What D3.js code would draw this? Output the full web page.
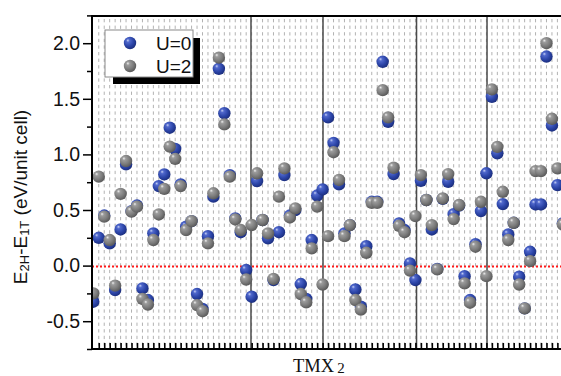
<!DOCTYPE html>
<html><head><meta charset="utf-8">
<script src="https://cdn.jsdelivr.net/npm/d3@7"></script>
<style>html,body{margin:0;padding:0;background:#fff;} svg{display:block;}</style>
</head><body>
<svg id="chart" width="561" height="376"></svg>
<script>
// compound index along the TMX2 axis
const categories = d3.range(0, 87);
// E(2H) - E(1T) in eV/unit cell, without Hubbard U
const u0 = [-0.325, 0.25, 0.45, 0.20, -0.22, 0.325, 0.91, 0.49, 0.54, -0.205,
  -0.31, 0.29, 0.715, 0.82, 1.24, 1.05, 0.73, 0.35, 0.40, -0.256,
  -0.39, 0.265, 0.62, 1.77, 1.37, 0.814, 0.425, 0.30, -0.04, -0.28,
  0.76, 0.41, 0.245, -0.13, 0.30, 0.814, 0.45, 0.50, -0.166, -0.30,
  0.23, 0.63, 0.685, 1.333, 1.104, 0.73, 0.29, 0.364, -0.215, -0.37,
  0.175, 0.574, 0.574, 1.833, 1.293, 0.823, 0.38, 0.32, 0.02, -0.13,
  0.763, 0.59, 0.325, -0.03, 0.60, 0.754, 0.463, 0.54, -0.095, -0.31,
  0.193, 0.49, 0.83, 1.518, 1.01, 0.553, 0.28, 0.385, -0.10, -0.385,
  0.124, 0.55, 0.55, 1.88, 1.26, 0.724, 0.38];
// same quantity with U = 2 eV
const u2 = [-0.25, 0.80, 0.44, 0.23, -0.18, 0.645, 0.94, 0.485, 0.53, -0.30,
  -0.35, 0.23, 0.46, 0.69, 1.07, 0.96, 0.715, 0.32, 0.40, -0.355,
  -0.41, 0.20, 0.65, 1.87, 1.27, 0.80, 0.415, 0.32, -0.125, 0.365,
  0.83, 0.41, 0.29, -0.12, 0.62, 0.874, 0.433, 0.515, -0.256, -0.33,
  0.155, 0.53, -0.17, 0.265, 1.02, 0.77, 0.265, 0.364, -0.31, -0.395,
  0.115, 0.565, 0.565, 1.578, 1.333, 0.88, 0.358, 0.30, -0.045, 0.445,
  0.814, 0.59, 0.364, -0.034, 0.604, 0.823, 0.418, 0.545, -0.16, -0.334,
  0.17, 0.574, -0.095, 1.585, 1.068, 0.664, 0.23, 0.385, -0.17, -0.385,
  0.04, 0.85, 0.85, 2.0, 1.32, 0.874, 0.37];
// boundaries between metal groups (in category units)
const groupBounds = [28.88, 42.07, 59.2, 72.11];
const yMajorTicks = [-0.5, 0.0, 0.5, 1.0, 1.5, 2.0];
const yMinorTicks = [-0.75, -0.25, 0.25, 0.75, 1.25, 1.75, 2.25];
const seriesNames = ["U=0", "U=2"];

const svg = d3.select("#chart");
const W = 561, H = 376;
const mLeft = 92, mTop = 16, mBottom = 349, mRight = W + 10;

const x = d3.scaleLinear().domain([0, 85]).range([93.3, 557.4]);
const y = d3.scaleLinear().domain([-0.75, 2.25]).range([mBottom, mBottom - 333.6]);

const defs = svg.append("defs");
defs.append("clipPath").attr("id", "plotClip")
  .append("rect").attr("x", mLeft).attr("y", mTop).attr("width", mRight - mLeft).attr("height", mBottom - mTop);

function sphere(id, stops) {
  const g = defs.append("radialGradient").attr("id", id)
    .attr("cx", "40%").attr("cy", "38%").attr("r", "62%").attr("fx", "32%").attr("fy", "28%");
  stops.forEach(([o, c]) => g.append("stop").attr("offset", o).attr("stop-color", c));
}
sphere("gBlue", [["0%", "#c6d0f4"], ["22%", "#5068cc"], ["65%", "#2c45a8"], ["100%", "#1c2f80"]]);
sphere("gGray", [["0%", "#f0f0f0"], ["22%", "#9c9c9c"], ["65%", "#7c7c7c"], ["100%", "#5a5a5a"]]);

const plot = svg.append("g").attr("clip-path", "url(#plotClip)");

// dashed background grid at every category
const gridTicks = d3.range(1, 88);
plot.append("g").selectAll("line").data(gridTicks).join("line")
  .attr("x1", d => x(d)).attr("x2", d => x(d))
  .attr("y1", mTop + 3).attr("y2", mBottom)
  .attr("stroke", "#b2b2b2").attr("stroke-width", 1)
  .attr("stroke-dasharray", "3.3,3.3");

// group separators
plot.append("g").selectAll("line").data(groupBounds).join("line")
  .attr("x1", d => x(d)).attr("x2", d => x(d))
  .attr("y1", mTop).attr("y2", mBottom)
  .attr("stroke", "#4a4a4a").attr("stroke-width", 1.5);

// zero reference
plot.append("line")
  .attr("x1", mLeft).attr("x2", mRight).attr("y1", Math.round(y(0)) + 0.5).attr("y2", Math.round(y(0)) + 0.5)
  .attr("stroke", "#ff1a1a").attr("stroke-width", 2).attr("stroke-dasharray", "2,2");

const r = 6.2;
plot.append("g").selectAll("circle").data(categories).join("circle")
  .attr("cx", d => x(d)).attr("cy", d => y(u0[d])).attr("r", r)
  .attr("fill", "url(#gBlue)");
plot.append("g").selectAll("circle").data(categories).join("circle")
  .attr("cx", d => x(d)).attr("cy", d => y(u2[d])).attr("r", r)
  .attr("fill", "url(#gGray)");

// axes
const font = "'Liberation Sans', Arial, sans-serif";
const yAxis = svg.append("g").attr("transform", `translate(${mLeft},0)`)
  .call(d3.axisLeft(y).tickValues(yMajorTicks).tickSize(9).tickPadding(3)
    .tickFormat(d => d.toFixed(1)));
yAxis.select(".domain").remove();
yAxis.selectAll(".tick line").attr("stroke", "#000").attr("stroke-width", 1.5);
yAxis.selectAll("text").attr("font-family", font).attr("font-size", 19.5).attr("fill", "#111");

const yMinor = svg.append("g").attr("transform", `translate(${mLeft},0)`)
  .call(d3.axisLeft(y).tickValues(yMinorTicks).tickSize(5).tickFormat(""));
yMinor.select(".domain").remove();
yMinor.selectAll(".tick line").attr("stroke", "#000").attr("stroke-width", 1.5);

const xAxis = svg.append("g").attr("transform", `translate(0,${mBottom})`)
  .call(d3.axisBottom(x).tickValues(gridTicks).tickSize(-6).tickFormat(""));
xAxis.select(".domain").remove();
xAxis.selectAll(".tick line").attr("stroke", "#000").attr("stroke-width", 1.6);

// frame
svg.append("line").attr("x1", mLeft).attr("x2", W).attr("y1", mBottom).attr("y2", mBottom)
  .attr("stroke", "#000").attr("stroke-width", 2);
svg.append("line").attr("x1", mLeft).attr("x2", W).attr("y1", mTop).attr("y2", mTop)
  .attr("stroke", "#000").attr("stroke-width", 2);
svg.append("line").attr("x1", mLeft).attr("x2", mLeft).attr("y1", mTop - 1).attr("y2", mBottom + 1)
  .attr("stroke", "#000").attr("stroke-width", 2);

// axis titles
const yl = svg.append("text")
  .attr("transform", `translate(27,197) rotate(-90)`)
  .attr("text-anchor", "middle").attr("font-family", font).attr("font-size", 19).attr("fill", "#111");
yl.append("tspan").text("E");
yl.append("tspan").attr("font-size", 13).attr("dy", 2).text("2H");
yl.append("tspan").attr("dy", -2).text("-E");
yl.append("tspan").attr("font-size", 13).attr("dy", 2).text("1T");
yl.append("tspan").attr("dy", -2).text(" (eV/unit cell)");

const xl = svg.append("text").attr("x", 293).attr("y", 372)
  .attr("font-family", "'Liberation Serif', 'Times New Roman', serif").attr("font-size", 18.5).attr("fill", "#111");
xl.append("tspan").text("TMX");
xl.append("tspan").attr("dx", 3).attr("font-size", 15).attr("dy", 1).text("2");

// legend
const lg = svg.append("g");
lg.append("rect").attr("x", 113).attr("y", 38).attr("width", 87).attr("height", 46).attr("fill", "#000");
lg.append("rect").attr("x", 105).attr("y", 30).attr("width", 88).attr("height", 47)
  .attr("fill", "#fff").attr("stroke", "#8a8a8a").attr("stroke-width", 1);
const fills = ["url(#gBlue)", "url(#gGray)"];
seriesNames.forEach((name, i) => {
  const cy = 43 + i * 23;
  lg.append("circle").attr("cx", 130).attr("cy", cy).attr("r", r).attr("fill", fills[i]);
  lg.append("text").attr("x", 156).attr("y", cy).attr("dy", "0.36em")
    .attr("font-family", font).attr("font-size", 19).attr("fill", "#111").text(name);
});
</script>
</body></html>
